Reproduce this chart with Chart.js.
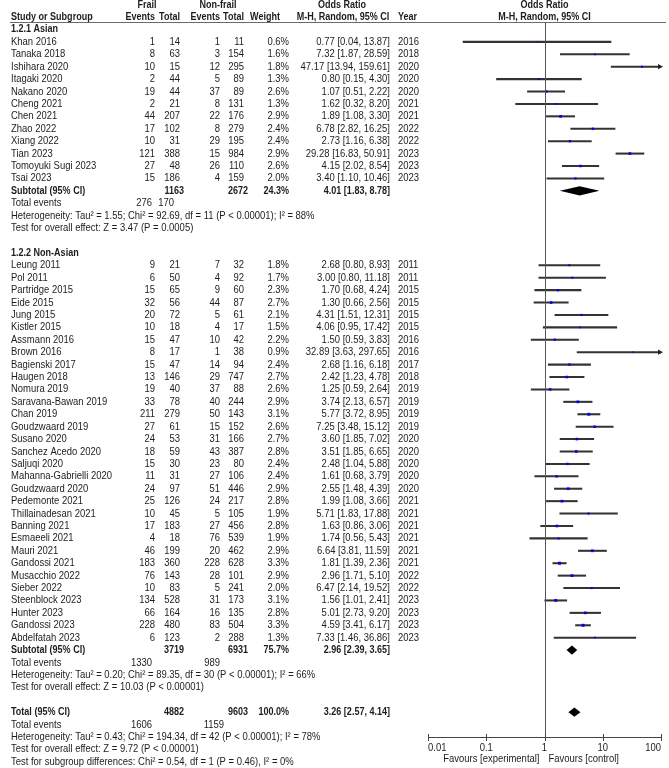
<!DOCTYPE html>
<html>
<head>
<meta charset="utf-8">
<script src="https://cdn.jsdelivr.net/npm/chart.js@4"></script>
<style>
  html, body { margin: 0; padding: 0; background: #fff; }
  #forest { display: block; }
</style>
</head>
<body>
<canvas id="forest" width="669" height="768"></canvas>
<script>
// study data, in the order shown
const studies = ['Khan 2016', 'Tanaka 2018', 'Ishihara 2020', 'Itagaki 2020', 'Nakano 2020', 'Cheng 2021', 'Chen 2021', 'Zhao 2022', 'Xiang 2022', 'Tian 2023', 'Tomoyuki Sugi 2023', 'Tsai 2023',
  'Leung 2011', 'Pol 2011', 'Partridge 2015', 'Eide 2015', 'Jung 2015', 'Kistler 2015', 'Assmann 2016', 'Brown 2016', 'Bagienski 2017', 'Haugen 2018', 'Nomura 2019', 'Saravana-Bawan 2019', 'Chan 2019', 'Goudzwaard 2019', 'Susano 2020', 'Sanchez Acedo 2020', 'Saljuqi 2020', 'Mahanna-Gabrielli 2020', 'Goudzwaard 2020', 'Pedemonte 2021', 'Thillainadesan 2021', 'Banning 2021', 'Esmaeeli 2021', 'Mauri 2021', 'Gandossi 2021', 'Musacchio 2022', 'Sieber 2022', 'Steenblock 2023', 'Hunter 2023', 'Gandossi 2023', 'Abdelfatah 2023'];
const years = [2016, 2018, 2020, 2020, 2020, 2021, 2021, 2022, 2022, 2023, 2023, 2023,
  2011, 2011, 2015, 2015, 2015, 2015, 2016, 2016, 2017, 2018, 2019, 2019, 2019, 2019, 2020, 2020, 2020, 2020, 2020, 2021, 2021, 2021, 2021, 2021, 2021, 2022, 2022, 2023, 2023, 2023, 2023];
const frailEvents = [1, 8, 10, 2, 19, 2, 44, 17, 10, 121, 27, 15,
  9, 6, 15, 32, 20, 10, 15, 8, 15, 13, 19, 33, 211, 27, 24, 18, 15, 11, 24, 25, 10, 17, 4, 46, 183, 76, 10, 134, 66, 228, 6];
const frailTotal = [14, 63, 15, 44, 44, 21, 207, 102, 31, 388, 48, 186,
  21, 50, 65, 56, 72, 18, 47, 17, 47, 146, 40, 78, 279, 61, 53, 59, 30, 31, 97, 126, 45, 183, 18, 199, 360, 143, 83, 528, 164, 480, 123];
const nonFrailEvents = [1, 3, 12, 5, 37, 8, 22, 8, 29, 15, 26, 4,
  7, 4, 9, 44, 5, 4, 10, 1, 14, 29, 37, 40, 50, 15, 31, 43, 23, 27, 51, 24, 5, 27, 76, 20, 228, 28, 5, 31, 16, 83, 2];
const nonFrailTotal = [11, 154, 295, 89, 89, 131, 176, 279, 195, 984, 110, 159,
  32, 92, 60, 87, 61, 17, 42, 38, 94, 747, 88, 244, 143, 152, 166, 387, 80, 106, 446, 217, 105, 456, 539, 462, 628, 101, 241, 173, 135, 504, 288];
const weights = [0.6, 1.6, 1.8, 1.3, 2.6, 1.3, 2.9, 2.4, 2.4, 2.9, 2.6, 2.0,
  1.8, 1.7, 2.3, 2.7, 2.1, 1.5, 2.2, 0.9, 2.4, 2.7, 2.6, 2.9, 3.1, 2.6, 2.7, 2.8, 2.4, 2.4, 2.9, 2.8, 1.9, 2.8, 1.9, 2.9, 3.3, 2.9, 2.0, 3.1, 2.8, 3.3, 1.3];
const oddsRatio = [0.77, 7.32, 47.17, 0.80, 1.07, 1.62, 1.89, 6.78, 2.73, 29.28, 4.15, 3.40,
  2.68, 3.00, 1.70, 1.30, 4.31, 4.06, 1.50, 32.89, 2.68, 2.42, 1.25, 3.74, 5.77, 7.25, 3.60, 3.51, 2.48, 1.61, 2.55, 1.99, 5.71, 1.63, 1.74, 6.64, 1.81, 2.96, 6.47, 1.56, 5.01, 4.59, 7.33];
const ciLow = [0.04, 1.87, 13.94, 0.15, 0.51, 0.32, 1.08, 2.82, 1.16, 16.83, 2.02, 1.10,
  0.80, 0.80, 0.68, 0.66, 1.51, 0.95, 0.59, 3.63, 1.16, 1.23, 0.59, 2.13, 3.72, 3.48, 1.85, 1.85, 1.04, 0.68, 1.48, 1.08, 1.83, 0.86, 0.56, 3.81, 1.39, 1.71, 2.14, 1.01, 2.73, 3.41, 1.46];
const ciHigh = [13.87, 28.59, 159.61, 4.30, 2.22, 8.20, 3.30, 16.25, 6.38, 50.91, 8.54, 10.46,
  8.93, 11.18, 4.24, 2.56, 12.31, 17.42, 3.83, 297.65, 6.18, 4.78, 2.64, 6.57, 8.95, 15.12, 7.02, 6.65, 5.88, 3.79, 4.39, 3.66, 17.88, 3.06, 5.43, 11.59, 2.36, 5.10, 19.52, 2.41, 9.20, 6.17, 36.86];

// subgroups
const subgroupNames = ['1.2.1 Asian', '1.2.2 Non-Asian'];
const subgroupSizes = [12, 31];
const subFrailTotal = [1163, 3719];
const subNonFrailTotal = [2672, 6931];
const subWeight = [24.3, 75.7];
const subOR = [4.01, 2.96];
const subLow = [1.83, 2.39];
const subHigh = [8.78, 3.65];
const subFrailEvents = [276, 1330];
const subNonFrailEvents = [170, 989];
const subHeterogeneity = ['Heterogeneity: Tau\u00b2 = 1.55; Chi\u00b2 = 92.69, df = 11 (P < 0.00001); I\u00b2 = 88%',
  'Heterogeneity: Tau\u00b2 = 0.20; Chi\u00b2 = 89.35, df = 30 (P < 0.00001); I\u00b2 = 66%'];
const subEffect = ['Test for overall effect: Z = 3.47 (P = 0.0005)', 'Test for overall effect: Z = 10.03 (P < 0.00001)'];

// overall
const totalFrail = 4882, totalNonFrail = 9603, totalWeight = 100.0;
const totalOR = 3.26, totalLow = 2.57, totalHigh = 4.14;
const totalFrailEvents = 1606, totalNonFrailEvents = 1159;
const totalNotes = ['Heterogeneity: Tau\u00b2 = 0.43; Chi\u00b2 = 194.34, df = 42 (P < 0.00001); I\u00b2 = 78%',
  'Test for overall effect: Z = 9.72 (P < 0.00001)',
  'Test for subgroup differences: Chi\u00b2 = 0.54, df = 1 (P = 0.46), I\u00b2 = 0%'];

// axis
const xTicks = [0.01, 0.1, 1, 10, 100];
const xTickLabels = ['0.01', '0.1', '1', '10', '100'];
const favourLabels = ['Favours [experimental]', 'Favours [control]'];

// ---- row layout ----
const rows = [];
let r = 0, s = 0;
subgroupNames.forEach((name, g) => {
  rows.push({ type: 'group', r: r++, g: g });
  for (let k = 0; k < subgroupSizes[g]; k++, s++) rows.push({ type: 'study', r: r++, i: s });
  rows.push({ type: 'subtotal', r: r++, g: g });
  rows.push({ type: 'events', r: r++, g: g });
  rows.push({ type: 'het', r: r++, g: g });
  rows.push({ type: 'effect', r: r++, g: g });
  r++;
});
const totalRow = r;

const studyRow = [];
rows.forEach(o => { if (o.type === 'study') studyRow[o.i] = o.r; });

const FONT = '"Liberation Sans", Arial, sans-serif';
const TXT = '#1c1c1c';

function txt(ctx, t, x, y, align, bold) {
  ctx.save();
  ctx.font = (bold ? 'bold ' : '') + '11px ' + FONT;
  ctx.fillStyle = TXT;
  ctx.textAlign = align;
  ctx.textBaseline = 'middle';
  ctx.translate(x, y);
  ctx.scale(bold ? 0.82 : 0.86, 1);
  ctx.fillText(t, 0, 0);
  ctx.restore();
}

function orText(v, lo, hi) {
  return v.toFixed(2) + ' [' + lo.toFixed(2) + ', ' + hi.toFixed(2) + ']';
}

// column positions (right edges unless noted)
const C = { name: 11, fe: 155, ft: 180, ne: 220, nt: 244, w: 289, or: 390, year: 398 };

const tablePlugin = {
  id: 'forestTable',
  afterDraw(chart) {
    const ctx = chart.ctx;
    const xs = chart.scales.x, ys = chart.scales.y;
    const Y = v => ys.getPixelForValue(v);
    const X = v => xs.getPixelForValue(v);
    const area = chart.chartArea;

    // header
    txt(ctx, 'Frail', 147, Y(-2), 'center', true);
    txt(ctx, 'Non-frail', 218, Y(-2), 'center', true);
    txt(ctx, 'Odds Ratio', 342, Y(-2), 'center', true);
    txt(ctx, 'Odds Ratio', X(1), Y(-2), 'center', true);
    txt(ctx, 'Study or Subgroup', C.name, Y(-1), 'left', true);
    txt(ctx, 'Events', C.fe, Y(-1), 'right', true);
    txt(ctx, 'Total', C.ft, Y(-1), 'right', true);
    txt(ctx, 'Events', C.ne, Y(-1), 'right', true);
    txt(ctx, 'Total', C.nt, Y(-1), 'right', true);
    txt(ctx, 'Weight', 280, Y(-1), 'right', true);
    txt(ctx, 'M-H, Random, 95% CI', 343, Y(-1), 'center', true);
    txt(ctx, 'Year', C.year, Y(-1), 'left', true);
    txt(ctx, 'M-H, Random, 95% CI', X(1), Y(-1), 'center', true);

    ctx.save();
    ctx.strokeStyle = '#6a6a6a';
    ctx.lineWidth = 1.2;
    ctx.beginPath();
    ctx.moveTo(10, area.top + 0.5);
    ctx.lineTo(666, area.top + 0.5);
    ctx.stroke();
    // line of no effect
    ctx.strokeStyle = '#555';
    ctx.lineWidth = 1;
    ctx.beginPath();
    ctx.moveTo(Math.round(X(1)) + 0.5, area.top);
    ctx.lineTo(Math.round(X(1)) + 0.5, area.bottom);
    ctx.stroke();
    ctx.restore();

    rows.forEach(o => {
      const y = Y(o.r);
      if (o.type === 'group') {
        txt(ctx, subgroupNames[o.g], C.name, y, 'left', true);
      } else if (o.type === 'study') {
        const i = o.i;
        txt(ctx, studies[i], C.name, y, 'left');
        txt(ctx, String(frailEvents[i]), C.fe, y, 'right');
        txt(ctx, String(frailTotal[i]), C.ft, y, 'right');
        txt(ctx, String(nonFrailEvents[i]), C.ne, y, 'right');
        txt(ctx, String(nonFrailTotal[i]), C.nt, y, 'right');
        txt(ctx, weights[i].toFixed(1) + '%', C.w, y, 'right');
        txt(ctx, orText(oddsRatio[i], ciLow[i], ciHigh[i]), C.or, y, 'right');
        txt(ctx, String(years[i]), C.year, y, 'left');
      } else if (o.type === 'subtotal') {
        const g = o.g;
        txt(ctx, 'Subtotal (95% CI)', C.name, y, 'left', true);
        txt(ctx, String(subFrailTotal[g]), C.ft + 4, y, 'right', true);
        txt(ctx, String(subNonFrailTotal[g]), C.nt + 4, y, 'right', true);
        txt(ctx, subWeight[g].toFixed(1) + '%', C.w, y, 'right', true);
        txt(ctx, orText(subOR[g], subLow[g], subHigh[g]), C.or, y, 'right', true);
      } else if (o.type === 'events') {
        txt(ctx, 'Total events', C.name, y, 'left');
        txt(ctx, String(subFrailEvents[o.g]), 152, y, 'right');
        txt(ctx, String(subNonFrailEvents[o.g]), o.g === 0 ? 174 : 220, y, 'right');
      } else if (o.type === 'het') {
        txt(ctx, subHeterogeneity[o.g], C.name, y, 'left');
      } else if (o.type === 'effect') {
        txt(ctx, subEffect[o.g], C.name, y, 'left');
      }
    });

    // overall block
    let y = Y(totalRow);
    txt(ctx, 'Total (95% CI)', C.name, y, 'left', true);
    txt(ctx, String(totalFrail), C.ft + 4, y, 'right', true);
    txt(ctx, String(totalNonFrail), C.nt + 4, y, 'right', true);
    txt(ctx, totalWeight.toFixed(1) + '%', C.w, y, 'right', true);
    txt(ctx, orText(totalOR, totalLow, totalHigh), C.or, y, 'right', true);
    y = Y(totalRow + 1);
    txt(ctx, 'Total events', C.name, y, 'left');
    txt(ctx, String(totalFrailEvents), 152, y, 'right');
    txt(ctx, String(totalNonFrailEvents), 224, y, 'right');
    totalNotes.forEach((t, k) => txt(ctx, t, C.name, Y(totalRow + 2 + k), 'left'));

    // arrows where the interval runs off the scale
    ctx.save();
    ctx.fillStyle = '#222';
    ciHigh.forEach((hi, i) => {
      if (hi > xs.max) {
        const ay = Y(studyRow[i]);
        const ax = area.right;
        ctx.beginPath();
        ctx.moveTo(ax + 2, ay);
        ctx.lineTo(ax - 3, ay - 2.6);
        ctx.lineTo(ax - 3, ay + 2.6);
        ctx.closePath();
        ctx.fill();
      }
    });

    // diamonds
    const diamonds = subOR.map((v, g) => [v, subLow[g], subHigh[g], rows.find(o => o.type === 'subtotal' && o.g === g).r]);
    diamonds.push([totalOR, totalLow, totalHigh, totalRow]);
    ctx.fillStyle = '#000';
    diamonds.forEach(d => {
      const cy = Y(d[3]);
      const h = 4.6;
      ctx.beginPath();
      ctx.moveTo(X(d[1]), cy);
      ctx.lineTo(X(d[0]), cy - h);
      ctx.lineTo(X(d[2]), cy);
      ctx.lineTo(X(d[0]), cy + h);
      ctx.closePath();
      ctx.fill();
    });

    // x axis
    ctx.strokeStyle = '#444';
    ctx.lineWidth = 1;
    const by = Math.round(area.bottom) + 0.5;
    ctx.beginPath();
    ctx.moveTo(X(xTicks[0]), by);
    ctx.lineTo(X(xTicks[xTicks.length - 1]), by);
    xTicks.forEach(t => {
      const tx = Math.round(X(t)) + 0.5;
      ctx.moveTo(tx, by - 3.5);
      ctx.lineTo(tx, by + 3.5);
    });
    ctx.stroke();
    ctx.restore();
    xTicks.forEach((t, k) => {
      const align = k === 0 ? 'left' : (k === xTicks.length - 1 ? 'right' : 'center');
      txt(ctx, xTickLabels[k], X(t), by + 10, align);
    });
    txt(ctx, favourLabels[0], X(1) - 5, by + 21, 'right');
    txt(ctx, favourLabels[1], X(1) + 4, by + 21, 'left');
  }
};

const ciData = studies.map((_, i) => ({ x: [ciLow[i], ciHigh[i]], y: studyRow[i] }));
const pointData = studies.map((_, i) => ({ x: oddsRatio[i], y: studyRow[i] }));

new Chart(document.getElementById('forest'), {
  type: 'bar',
  data: {
    datasets: [
      {
        type: 'scatter',
        data: pointData,
        pointStyle: 'rect',
        pointRadius: weights.map(w => 0.6 + 0.45 * w),
        backgroundColor: '#0000ff',
        borderWidth: 0
      },
      {
        type: 'bar',
        indexAxis: 'y',
        data: ciData,
        backgroundColor: '#333333',
        barThickness: 1.4,
        borderSkipped: false
      }
    ]
  },
  options: {
    responsive: false,
    animation: false,
    layout: { padding: { left: 428, right: 8, top: 22, bottom: 31 } },
    scales: {
      x: { type: 'logarithmic', min: 0.01, max: 100, offset: false, display: false },
      y: { type: 'linear', min: -0.6, max: 57, reverse: true, offset: false, grace: 0, display: false }
    },
    plugins: { legend: { display: false }, tooltip: { enabled: false } }
  },
  plugins: [tablePlugin]
});
</script>
</body>
</html>
